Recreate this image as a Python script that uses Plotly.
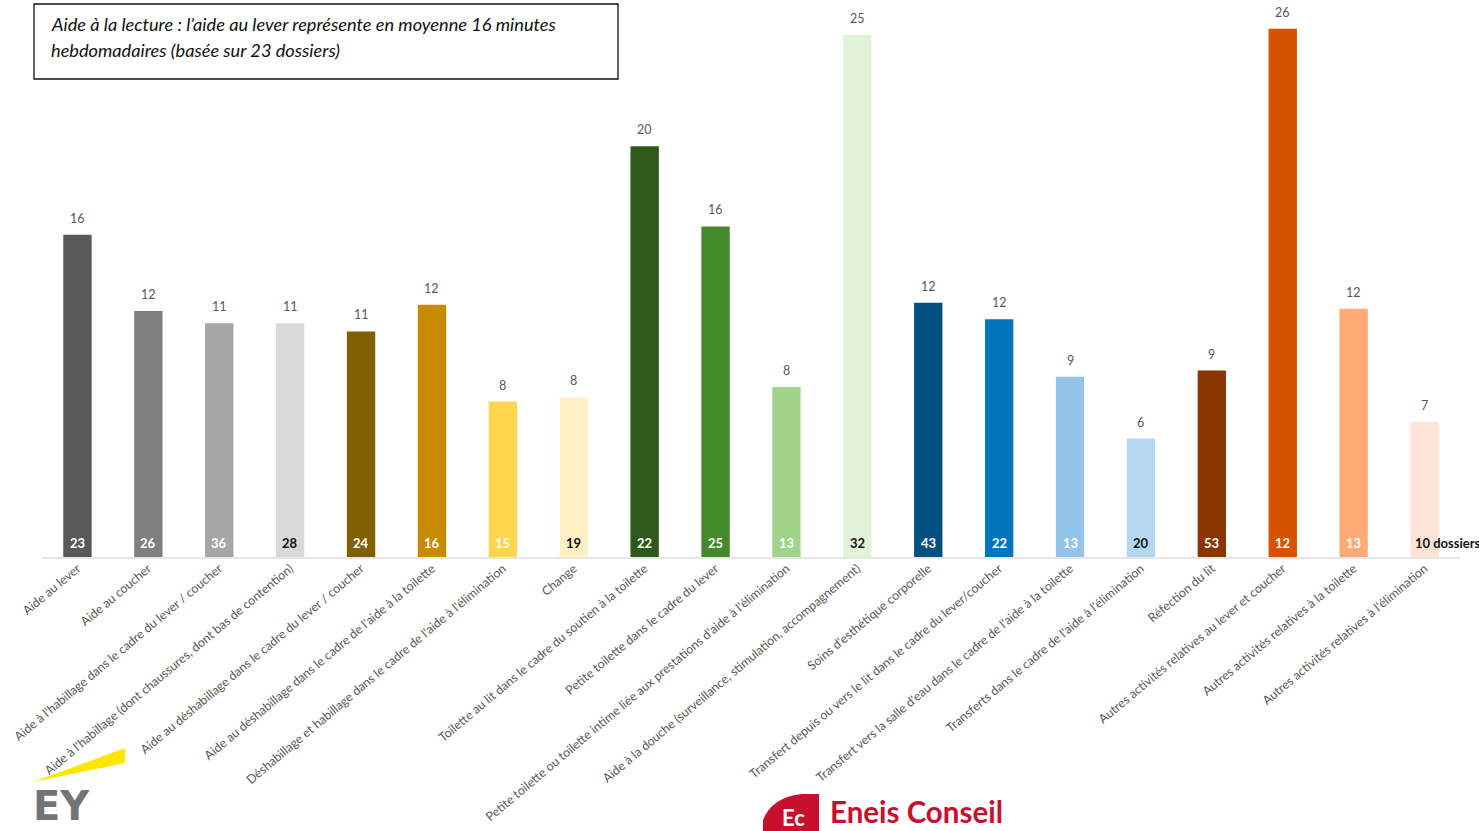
import plotly.graph_objects as go

# Weekly minutes per activity and number of case files behind each average
activities = [
    "Aide au lever",
    "Aide au coucher",
    "Aide à l'habillage dans le cadre du lever / coucher",
    "Aide à l'habillage (dont chaussures, dont bas de contention)",
    "Aide au déshabillage dans le cadre du lever / coucher",
    "Aide au déshabillage dans le cadre de l'aide à la toilette",
    "Déshabillage et habillage dans le cadre de l'aide à l'élimination",
    "Change",
    "Toilette au lit dans le cadre du soutien à la toilette",
    "Petite toilette dans le cadre du lever",
    "Petite toilette ou toilette intime liée aux prestations d'aide à l'élimination",
    "Aide à la douche (surveillance, stimulation, accompagnement)",
    "Soins d'esthétique corporelle",
    "Transfert depuis ou vers le lit dans le cadre du lever/coucher",
    "Transfert vers la salle d'eau dans le cadre de l'aide à la toilette",
    "Transferts dans le cadre de l'aide à l'élimination",
    "Réfection du lit",
    "Autres activités relatives au lever et coucher",
    "Autres activités relatives à la toilette",
    "Autres activités relatives à l'élimination",
]
minutes = [15.7, 12.0, 11.4, 11.4, 11.0, 12.3, 7.6, 7.8, 20.0, 16.1,
           8.3, 25.4, 12.4, 11.6, 8.8, 5.8, 9.1, 25.7, 12.1, 6.6]
dossiers = [23, 26, 36, 28, 24, 16, 15, 19, 22, 25,
            13, 32, 43, 22, 13, 20, 53, 12, 13, 10]
count_labels = [str(d) for d in dossiers[:-1]] + [f"{dossiers[-1]} dossiers"]

bar_colors = ["#595959", "#7f7f7f", "#a6a6a6", "#d9d9d9", "#7f5f00",
              "#c88b00", "#ffd54f", "#fff0c4", "#2d5a1b", "#43892b",
              "#a0d48c", "#e0f2d8", "#00507f", "#0075bb", "#93c3e8",
              "#b4d7ef", "#8b3500", "#d55200", "#ffab77", "#ffe3d6"]
count_colors = ["white", "white", "white", "#111111", "white",
                "white", "white", "#111111", "white", "white",
                "white", "#111111", "white", "white", "white",
                "#111111", "white", "white", "white", "#111111"]

W, H = 1479, 831
L, R, T, B = 42, 19, 2, 273
YMAX = 27.0
plot_w = W - L - R
plot_h = H - T - B


def px(x):
    return (x - L) / plot_w


def py(y):
    return (H - B - y) / plot_h


fig = go.Figure()
fig.add_trace(go.Bar(
    x=activities,
    y=minutes,
    width=0.4,
    marker=dict(color=bar_colors, line=dict(width=0)),
    hoverinfo="skip",
))

annotations = []
# minutes above each bar
for act, m in zip(activities, minutes):
    annotations.append(dict(
        x=act, y=m, xref="x", yref="y", text=f"{m:.0f}", showarrow=False,
        yanchor="bottom", yshift=7,
        font=dict(family="Lato", size=12.5, color="#595959"),
    ))
# number of files at the foot of each bar
for i, (act, lab, col) in enumerate(zip(activities, count_labels, count_colors)):
    last = i == len(activities) - 1
    annotations.append(dict(
        x=act, y=0, xref="x", yref="y", text=f"<b>{lab}</b>", showarrow=False,
        yanchor="bottom", yshift=5,
        xanchor="left" if last else "center", xshift=-12 if last else 0,
        font=dict(family="Lato", size=13, color=col),
    ))

# reading-aid box
annotations.append(dict(
    x=px(49), y=py(24), xref="paper", yref="paper", xanchor="left", yanchor="middle",
    text="<i>Aide à la lecture : l’aide au lever représente en moyenne 16 minutes</i>",
    showarrow=False, font=dict(family="Lato", size=18.2, color="#111111"),
))
annotations.append(dict(
    x=px(49), y=py(50), xref="paper", yref="paper", xanchor="left", yanchor="middle",
    text="<i>hebdomadaires (basée sur 23 dossiers)</i>",
    showarrow=False, font=dict(family="Lato", size=18.2, color="#111111"),
))

# logos
annotations.append(dict(
    x=px(31), y=py(806), xref="paper", yref="paper", xanchor="left", yanchor="middle",
    text="<b>EY</b>", showarrow=False,
    font=dict(family="DejaVu Sans", size=40, color="#747474"),
))
annotations.append(dict(
    x=px(794), y=py(817), xref="paper", yref="paper", xanchor="center", yanchor="middle",
    text="<b>Ec</b>", showarrow=False,
    font=dict(family="Lato", size=22, color="white"),
))
annotations.append(dict(
    x=px(828), y=py(811), xref="paper", yref="paper", xanchor="left", yanchor="middle",
    text="<b>Eneis Conseil</b>", showarrow=False,
    font=dict(family="Lato", size=29.5, color="#c8102e"),
))

shapes = [
    # baseline
    dict(type="line", xref="paper", yref="paper", x0=0, x1=1, y0=0, y1=0,
         line=dict(color="#e6e6e6", width=2)),
    # reading-aid frame
    dict(type="rect", xref="paper", yref="paper",
         x0=px(34), x1=px(618), y0=py(4), y1=py(79),
         line=dict(color="#111111", width=1.3), fillcolor="rgba(0,0,0,0)"),
    # EY beam
    dict(type="path", xref="paper", yref="paper",
         path=f"M {px(33)} {py(782)} L {px(125)} {py(748)} L {px(125)} {py(763)} Z",
         fillcolor="#ffe600", line=dict(width=0)),
    # Eneis badge
    dict(type="path", xref="paper", yref="paper",
         path=(f"M {px(819)} {py(794)} L {px(802)} {py(794)} "
               f"Q {px(772)} {py(797)} {px(763)} {py(820)} "
               f"L {px(763)} {py(831)} L {px(819)} {py(831)} Z"),
         fillcolor="#c8102e", line=dict(width=0)),
]

fig.update_layout(
    width=W, height=H,
    margin=dict(l=L, r=R, t=T, b=B, autoexpand=False),
    paper_bgcolor="white", plot_bgcolor="white",
    showlegend=False,
    xaxis=dict(
        type="category", range=[-0.5, len(activities) - 0.5],
        tickangle=-40, showgrid=False, showline=False, ticks="",
        tickfont=dict(family="Lato", size=12.4, color="#595959"),
    ),
    yaxis=dict(range=[0, YMAX], visible=False, showgrid=False, zeroline=False),
    annotations=annotations,
    shapes=shapes,
)

fig.write_html("out.html")
